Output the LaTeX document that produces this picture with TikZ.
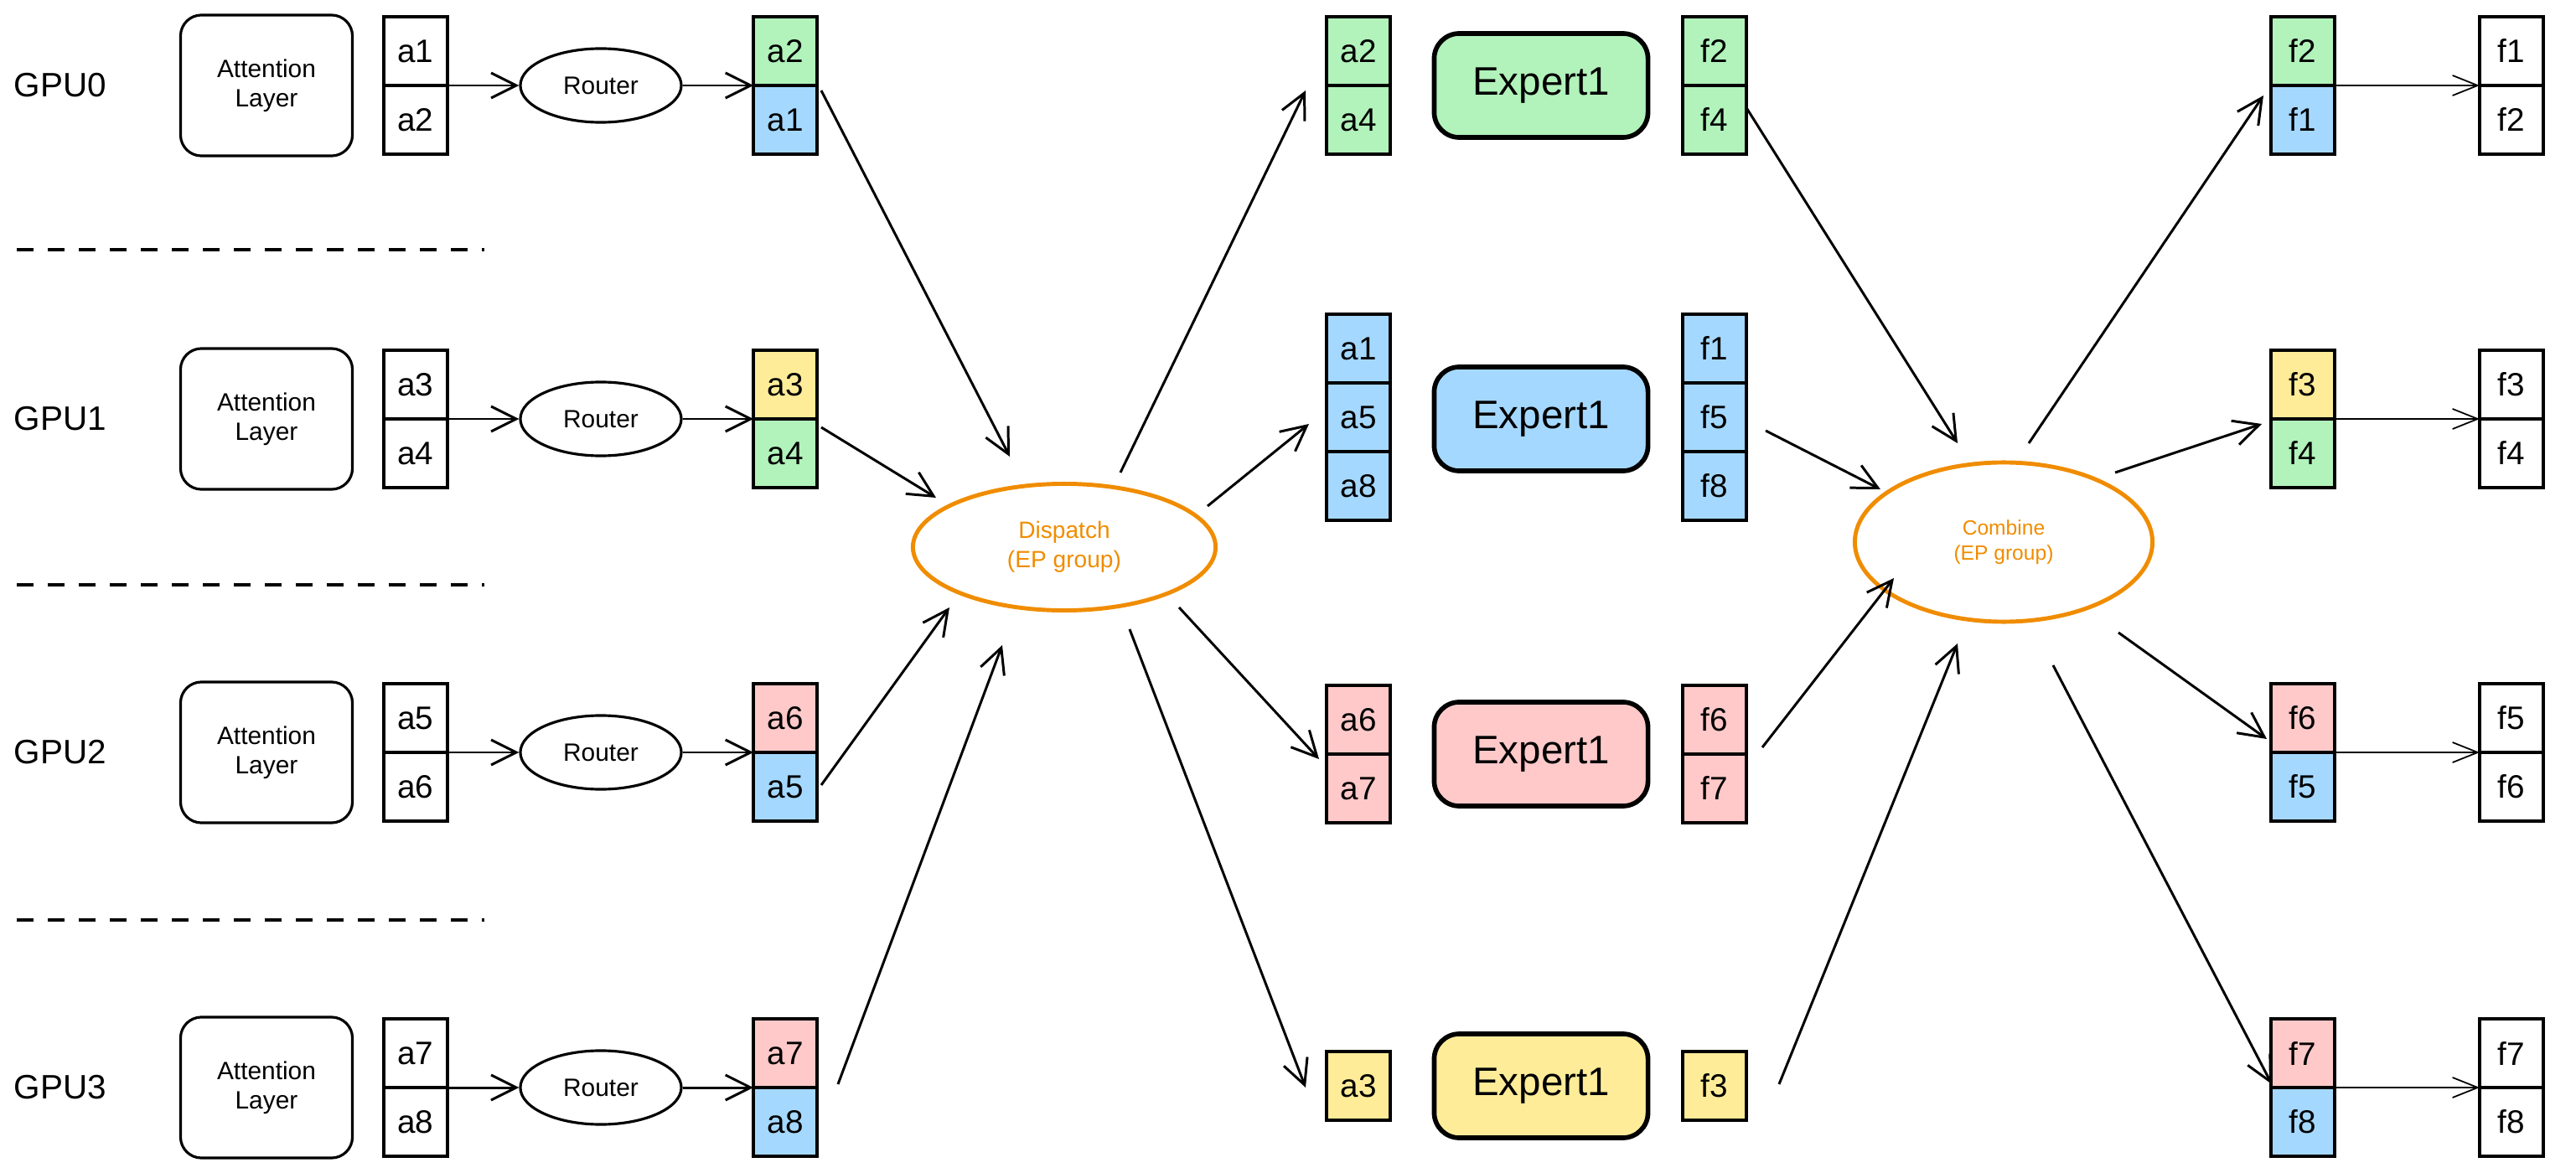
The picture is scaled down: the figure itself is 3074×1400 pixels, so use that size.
\documentclass[tikz,border=0pt]{standalone}
\usepackage{fontspec}
\setmainfont{Liberation Sans}
\usetikzlibrary{arrows.meta,shapes.geometric}
\definecolor{cg}{HTML}{B2F2BB}
\definecolor{cb}{HTML}{A5D8FF}
\definecolor{cy}{HTML}{FFEC99}
\definecolor{cr}{HTML}{FFC9C9}
\definecolor{co}{HTML}{F08C00}
\begin{document}
\begin{tikzpicture}[x=0.01cm,y=-0.01cm,
  cell/.style={draw,line width=0.9pt,minimum width=0.76cm,minimum height=0.82cm,inner sep=0pt,font=\fontsize{11}{13}\selectfont},
  att/.style={draw,line width=0.9pt,rounded corners=0.25cm,minimum width=2.05cm,minimum height=1.68cm,align=center,font=\fontsize{8.5}{10}\selectfont},
  router/.style={draw,line width=0.9pt,ellipse,minimum width=1.92cm,minimum height=0.88cm,inner sep=0pt,font=\fontsize{8.5}{10}\selectfont},
  expert/.style={draw,line width=1.6pt,rounded corners=0.3cm,minimum width=2.55cm,minimum height=1.24cm,font=\fontsize{13.5}{16}\selectfont},
  hub/.style={draw=co,line width=1.4pt,ellipse,text=co,align=center,inner sep=0pt},
  gpu/.style={font=\fontsize{11.5}{14}\selectfont},
  arr/.style={line width=0.85pt,-{Straight Barb[length=0.3cm,width=0.3cm]}},
  thin/.style={line width=0.5pt,-{Straight Barb[length=0.3cm,width=0.24cm]}},
  sep/.style={line width=1.4pt,dash pattern=on 0.2cm off 0.17cm}]
\useasboundingbox (0,0) rectangle (3074,1400);
% separators
\foreach \y/\n in {298/s1,698/s2,1098/s3}{
  \coordinate (\n a) at (20,\y); \coordinate (\n b) at (578,\y);
  \draw[sep] (\n a) -- (\n b);}
% rows
\foreach \r/\y/\p/\q/\cp/\tp/\cq/\tq in {0/102/a1/a2/cg/a2/cb/a1, 1/500/a3/a4/cy/a3/cg/a4, 2/898/a5/a6/cr/a6/cb/a5, 3/1298/a7/a8/cr/a7/cb/a8}{
  \node[gpu] (gpu\r) at (72,\y) {GPU\r};
  \node[att] (att\r) at (318,\y) {Attention\\Layer};
  \node[cell] (in\r t) at (496,\y-41) {\p};
  \node[cell] (in\r b) at (496,\y+41) {\q};
  \coordinate (in\r) at (534,\y);
  \node[router] (rt\r) at (717,\y) {Router};
  \node[cell,fill=\cp] (rs\r t) at (937,\y-41) {\tp};
  \node[cell,fill=\cq] (rs\r b) at (937,\y+41) {\tq};
  \coordinate (rs\r) at (899,\y);
  \draw[arr] (in\r) -- (rt\r.west);
  \draw[arr] (rt\r.east) -- (rs\r);
}
% hubs
\node[hub,minimum width=3.61cm,minimum height=1.51cm,font=\fontsize{8}{10}\selectfont] (disp) at (1270,653) {Dispatch\\(EP group)};
\node[hub,minimum width=3.55cm,minimum height=1.90cm,font=\fontsize{7}{8.5}\selectfont] (comb) at (2391,647) {Combine\\(EP group)};
% middle stacks and experts
\node[cell,fill=cg] (m0t) at (1621,61) {a2};
\node[cell,fill=cg] (m0b) at (1621,143) {a4};
\node[cell,fill=cb] (m1t) at (1621,416) {a1};
\node[cell,fill=cb] (m1m) at (1621,498) {a5};
\node[cell,fill=cb] (m1b) at (1621,580) {a8};
\node[cell,fill=cr] (m2t) at (1621,859) {a6};
\node[cell,fill=cr] (m2b) at (1621,941) {a7};
\node[cell,fill=cy] (m3) at (1621,1296) {a3};
\node[expert,fill=cg] (e0) at (1839,102) {Expert1};
\node[expert,fill=cb] (e1) at (1839,500) {Expert1};
\node[expert,fill=cr] (e2) at (1839,900) {Expert1};
\node[expert,fill=cy] (e3) at (1839,1296) {Expert1};
\node[cell,fill=cg] (f0t) at (2046,61) {f2};
\node[cell,fill=cg] (f0b) at (2046,143) {f4};
\node[cell,fill=cb] (f1t) at (2046,416) {f1};
\node[cell,fill=cb] (f1m) at (2046,498) {f5};
\node[cell,fill=cb] (f1b) at (2046,580) {f8};
\node[cell,fill=cr] (f2t) at (2046,859) {f6};
\node[cell,fill=cr] (f2b) at (2046,941) {f7};
\node[cell,fill=cy] (f3) at (2046,1296) {f3};
% right stacks
\foreach \r/\y/\cp/\tp/\cq/\tq/\wp/\wq in {0/102/cg/f2/cb/f1/f1/f2, 1/500/cy/f3/cg/f4/f3/f4, 2/898/cr/f6/cb/f5/f5/f6, 3/1298/cr/f7/cb/f8/f7/f8}{
  \node[cell,fill=\cp] (o\r t) at (2748,\y-41) {\tp};
  \node[cell,fill=\cq] (o\r b) at (2748,\y+41) {\tq};
  \node[cell] (w\r t) at (2997,\y-41) {\wp};
  \node[cell] (w\r b) at (2997,\y+41) {\wq};
  \coordinate (o\r) at (2786,\y);
  \coordinate (w\r) at (2959,\y);
  \draw[thin] (o\r) -- (w\r);
}
% connector end points
\coordinate (d0s) at (980,108);  \coordinate (d0e) at (1205,545);
\coordinate (d1s) at (980,510);  \coordinate (d1e) at (1117,594);
\coordinate (d2s) at (980,937);  \coordinate (d2e) at (1133,725);
\coordinate (d3s) at (1000,1294);\coordinate (d3e) at (1196,770);
\coordinate (x0s) at (1337,564); \coordinate (x0e) at (1558,108);
\coordinate (x1s) at (1441,604); \coordinate (x1e) at (1562,506);
\coordinate (x2s) at (1407,725); \coordinate (x2e) at (1574,906);
\coordinate (x3s) at (1348,751); \coordinate (x3e) at (1558,1298);
\coordinate (c0s) at (2083,127); \coordinate (c0e) at (2336,529);
\coordinate (c1s) at (2107,514); \coordinate (c1e) at (2244,584);
\coordinate (c2s) at (2103,892); \coordinate (c2e) at (2260,690);
\coordinate (c3s) at (2123,1294);\coordinate (c3e) at (2336,768);
\coordinate (y0s) at (2421,529); \coordinate (y0e) at (2701,114);
\coordinate (y1s) at (2524,564); \coordinate (y1e) at (2699,506);
\coordinate (y2s) at (2528,755); \coordinate (y2e) at (2705,882);
\coordinate (y3s) at (2450,794); \coordinate (y3e) at (2711,1294);
\foreach \n in {d,x,c,y}{\foreach \i in {0,1,2,3}{\draw[arr] (\n\i s) -- (\n\i e);}}
\end{tikzpicture}
\end{document}
